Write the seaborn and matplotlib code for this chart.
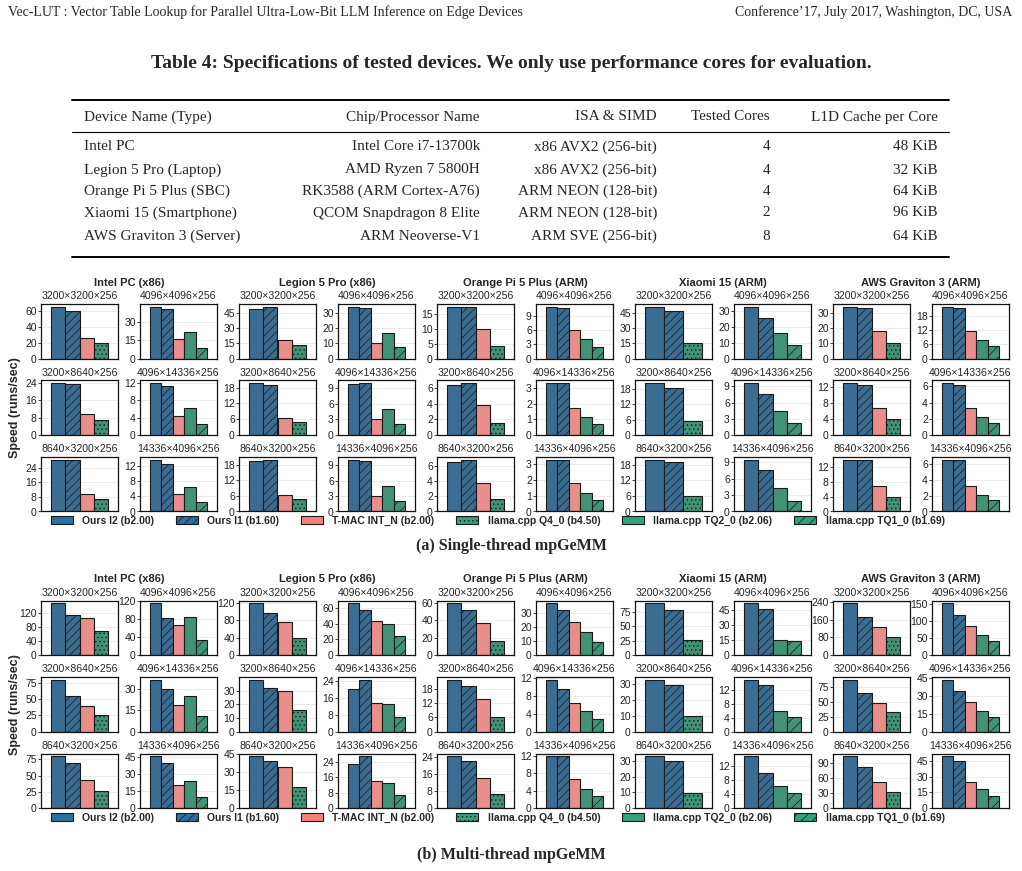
import matplotlib
matplotlib.use("Agg")
import matplotlib.pyplot as plt
import matplotlib.patches as mpatches
import seaborn as sns
import pandas as pd
import numpy as np

# ---- data -------------------------------------------------------------
devices = ['Intel PC (x86)', 'Legion 5 Pro (x86)', 'Orange Pi 5 Plus (ARM)',
           'Xiaomi 15 (ARM)', 'AWS Graviton 3 (ARM)']
shapes_left = ['3200×3200×256', '3200×8640×256', '8640×3200×256']
shapes_right = ['4096×4096×256', '4096×14336×256', '14336×4096×256']

methods = ['Ours I2 (b2.00)', 'Ours I1 (b1.60)', 'T-MAC INT_N (b2.00)',
           'llama.cpp Q4_0 (b4.50)', 'llama.cpp TQ2_0 (b2.06)', 'llama.cpp TQ1_0 (b1.69)']
left_methods = methods[:4]
right_methods = methods[:3] + methods[4:]

# panels per device: row1-left, row1-right, row2-left, row2-right, row3-left, row3-right
# None = method not available on that device
st_intel = [[65.4, 60, 26.2, 19], [42.2, 40.6, 16, 21.8, 8.7],
            [24, 23.5, 9.7, 6.8], [12, 11.4, 4.5, 6.2, 2.6],
            [28, 28.4, 9.7, 7], [13.7, 12.5, 4.7, 6.5, 2.5]]
st_legion = [[49, 51, 17.8, 13.5], [33.9, 33.3, 10.3, 16.8, 7.4],
             [19.7, 19, 6.4, 4.8], [9.9, 10, 3.0, 5.0, 2.1],
             [19.6, 20, 6.2, 4.9], [10.1, 9.9, 3.1, 4.9, 2.1]]
st_orange = [[17.6, 17.6, 10.1, 4.4], [11.0, 10.8, 6.0, 4.2, 2.5],
             [6.4, 6.65, 3.8, 1.6], [3.3, 3.3, 1.7, 1.13, 0.7],
             [6.6, 6.9, 3.8, 1.6], [3.25, 3.3, 1.8, 1.17, 0.7]]
st_xiaomi = [[51, 46.8, None, 15.5], [33, 26, None, 16.2, 8.9],
             [20.1, 18.2, None, 5.5], [9.6, 7.6, None, 4.4, 2.2],
             [19.9, 18.8, None, 5.8], [9.45, 7.5, None, 4.3, 2.0]]
st_aws = [[33.9, 33.3, 17.9, 10.3], [22.0, 21.2, 11.6, 7.9, 5.1],
          [13.0, 12.6, 6.7, 3.9], [6.4, 6.2, 3.3, 2.2, 1.45],
          [13.8, 14.0, 6.75, 3.9], [6.6, 6.5, 3.3, 2.1, 1.4]]

mt_intel = [[149, 113.5, 107, 70], [115.7, 82.8, 67, 84, 33.6],
            [80.3, 55.3, 39.4, 25], [37, 30, 19, 25, 11],
            [80, 70, 43, 26], [46, 40, 20, 24, 10]]
mt_legion = [[120, 97, 76, 39.5], [66.5, 58, 43.3, 40, 24],
             [38, 32, 30, 16], [20, 24.5, 13.5, 13, 7],
             [43, 39, 34, 17], [23, 27, 14, 13, 7]]
mt_orange = [[60, 52.3, 37.2, 16.7], [37.2, 31.9, 23.5, 16.3, 9.6],
             [22, 19.4, 13.7, 6], [11.6, 9.4, 6.3, 4.5, 2.8],
             [24.5, 22, 14, 6.5], [12, 12, 6.8, 4.5, 2.8]]
mt_xiaomi = [[90.6, 79, None, 27], [51.7, 46, None, 15.3, 14.3],
             [32.7, 29, None, 9.5], [15, 13.4, None, 5.8, 4.3],
             [33, 30, None, 9.5], [15, 10, None, 6.5, 4.3]]
mt_aws = [[235, 172, 126, 83.6], [152, 117.6, 85, 60, 40],
          [86.7, 64.4, 47.2, 32], [43.5, 34, 24.4, 17, 12],
          [103, 82, 52, 32], [50, 45, 25, 18, 12]]

# y tick steps per panel (same order as the values)
st_steps = [[20, 15, 8, 4, 8, 4], [15, 10, 6, 3, 6, 3], [5, 3, 2, 1, 2, 1],
            [15, 10, 6, 3, 6, 3], [10, 6, 4, 2, 4, 2]]
mt_steps = [[40, 40, 25, 15, 25, 15], [40, 20, 10, 8, 15, 8], [20, 10, 6, 4, 8, 4],
            [25, 15, 10, 4, 10, 4], [80, 50, 25, 15, 30, 15]]

single_thread = [st_intel, st_legion, st_orange, st_xiaomi, st_aws]
multi_thread = [mt_intel, mt_legion, mt_orange, mt_xiaomi, mt_aws]

# table 4
tbl_header = ['Device Name (Type)', 'Chip/Processor Name', 'ISA & SIMD', 'Tested Cores', 'L1D Cache per Core']
tbl_device = ['Intel PC', 'Legion 5 Pro (Laptop)', 'Orange Pi 5 Plus (SBC)',
              'Xiaomi 15 (Smartphone)', 'AWS Graviton 3 (Server)']
tbl_chip = ['Intel Core i7-13700k', 'AMD Ryzen 7 5800H', 'RK3588 (ARM Cortex-A76)',
            'QCOM Snapdragon 8 Elite', 'ARM Neoverse-V1']
tbl_isa = ['x86 AVX2 (256-bit)', 'x86 AVX2 (256-bit)', 'ARM NEON (128-bit)',
           'ARM NEON (128-bit)', 'ARM SVE (256-bit)']
tbl_cores = ['4', '4', '4', '2', '8']
tbl_cache = ['48 KiB', '32 KiB', '64 KiB', '96 KiB', '64 KiB']

# ---- style ------------------------------------------------------------
BLUE, RED, GREEN = '#2D6FA0', '#FA7F7C', '#35A07A'
colors = dict(zip(methods, [BLUE, BLUE, RED, GREEN, GREEN, GREEN]))
hatches = dict(zip(methods, ['', '////', '', '....', '', '///']))

sns.set_theme(style="white")
plt.rcParams['font.family'] = ['Liberation Sans', 'DejaVu Sans']
plt.rcParams['hatch.linewidth'] = 0.5

W, H = 1022, 871
fig = plt.figure(figsize=(W / 100, H / 100), dpi=100)


def box(x, y, w, h):
    # pixel box (top-left origin) -> figure fraction
    return [x / W, 1 - (y + h) / H, w / W, h / H]


def fy(y):
    return 1 - y / H


SERIF = ['Liberation Serif', 'DejaVu Serif']
PW, PH = 77, 54.5


def draw_panel(ax, vals, names, step, title):
    rows = [(m, v) for m, v in zip(names, vals) if v is not None]
    df = pd.DataFrame(rows, columns=['method', 'speed'])
    order = list(df['method'])
    sns.barplot(data=df, x='method', y='speed', hue='method', order=order, hue_order=order,
                palette={m: colors[m] for m in order}, width=1.0, errorbar=None,
                edgecolor='#1a1a1a', linewidth=0.8, legend=False, ax=ax, zorder=2)
    for bar in ax.patches:
        idx = int(round(bar.get_x() + bar.get_width() / 2))
        bar.set_hatch(hatches[order[idx]])
    n = len(order)
    pad = 0.175 * n
    ax.set_xlim(-0.5 - pad, n - 0.5 + pad)
    top = df['speed'].max() * 1.05
    ax.set_ylim(0, top)
    ax.set_yticks(np.arange(0, top + 1e-9, step))
    ax.yaxis.set_major_formatter(plt.FuncFormatter(lambda v, p: f'{v:g}'))
    ax.set_xticks([])
    ax.set_xlabel('')
    ax.set_ylabel('')
    ax.yaxis.grid(True, color='#EBEBEB', lw=0.7)
    ax.set_axisbelow(True)
    ax.tick_params(axis='y', length=2, width=0.6, pad=1, labelsize=7.5, colors='#222222',
                   left=True)
    for s in ax.spines.values():
        s.set_visible(True)
        s.set_color('#111111')
        s.set_linewidth(0.9)
    ax.set_title(title, fontsize=7.6, pad=3.5)


def draw_block(data, steps, row_tops, title_y, legend_y, ylab_y, caption, caption_y):
    for d, dev in enumerate(devices):
        x1 = 41 + 198 * d
        x2 = x1 + 99
        for r in range(3):
            axl = fig.add_axes(box(x1, row_tops[r], PW, PH))
            draw_panel(axl, data[d][2 * r], left_methods, steps[d][2 * r], shapes_left[r])
            axr = fig.add_axes(box(x2, row_tops[r], PW, PH))
            draw_panel(axr, data[d][2 * r + 1], right_methods, steps[d][2 * r + 1], shapes_right[r])
        fig.text((x1 + 88) / W, fy(title_y), dev, ha='center', va='center',
                 fontsize=8, fontweight='bold')
    fig.text(15 / W, fy(ylab_y), 'Speed (runs/sec)', rotation=90, ha='center', va='center',
             fontsize=9, fontweight='bold')
    handles = [mpatches.Patch(facecolor=colors[m], edgecolor='#1a1a1a', hatch=hatches[m],
                              lw=0.8, label=m) for m in methods]
    fig.legend(handles=handles, loc='center', bbox_to_anchor=(0.487, fy(legend_y)), ncol=6,
               frameon=False, handlelength=2.1, handleheight=0.75, handletextpad=0.9,
               columnspacing=2.1, prop={'weight': 'bold', 'size': 7.5})
    fig.text(0.5, fy(caption_y), caption, ha='center', va='center', fontsize=11.5,
             fontweight='bold', family=SERIF)


# ---- page header and table -------------------------------------------
fig.text(8 / W, fy(12), 'Vec-LUT : Vector Table Lookup for Parallel Ultra-Low-Bit LLM Inference on Edge Devices',
         ha='left', va='center', fontsize=10, family=SERIF)
fig.text(1012 / W, fy(12), 'Conference\u201917, July 2017, Washington, DC, USA',
         ha='right', va='center', fontsize=10, family=SERIF)
fig.text(0.5, fy(63), 'Table 4: Specifications of tested devices. We only use performance cores for evaluation.',
         ha='center', va='center', fontsize=14, fontweight='bold', family=SERIF)

for y, lw in [(100, 1.4), (132, 0.8), (257, 1.4)]:
    fig.add_artist(plt.Line2D([72 / W, 949 / W], [fy(y), fy(y)], color='black', lw=lw))

col_x = [84, 480, 657, 770, 938]
col_ha = ['left', 'right', 'right', 'right', 'right']
for x, ha, txt in zip(col_x, col_ha, tbl_header):
    fig.text(x / W, fy(117), txt, ha=ha, va='center', fontsize=11, family=SERIF)
row_y = [147, 170, 191, 213, 236]
for i, y in enumerate(row_y):
    cells = [tbl_device[i], tbl_chip[i], tbl_isa[i], tbl_cores[i], tbl_cache[i]]
    for x, ha, txt in zip(col_x, col_ha, cells):
        fig.text(x / W, fy(y), txt, ha=ha, va='center', fontsize=11, family=SERIF)

# ---- charts -----------------------------------------------------------
draw_block(single_thread, st_steps, [304, 380.5, 457], 283, 521, 408,
           '(a) Single-thread mpGeMM', 546)
draw_block(multi_thread, mt_steps, [600.5, 677, 753.5], 579, 818, 705,
           '(b) Multi-thread mpGeMM', 855)

fig.savefig('out.png', dpi=100)
